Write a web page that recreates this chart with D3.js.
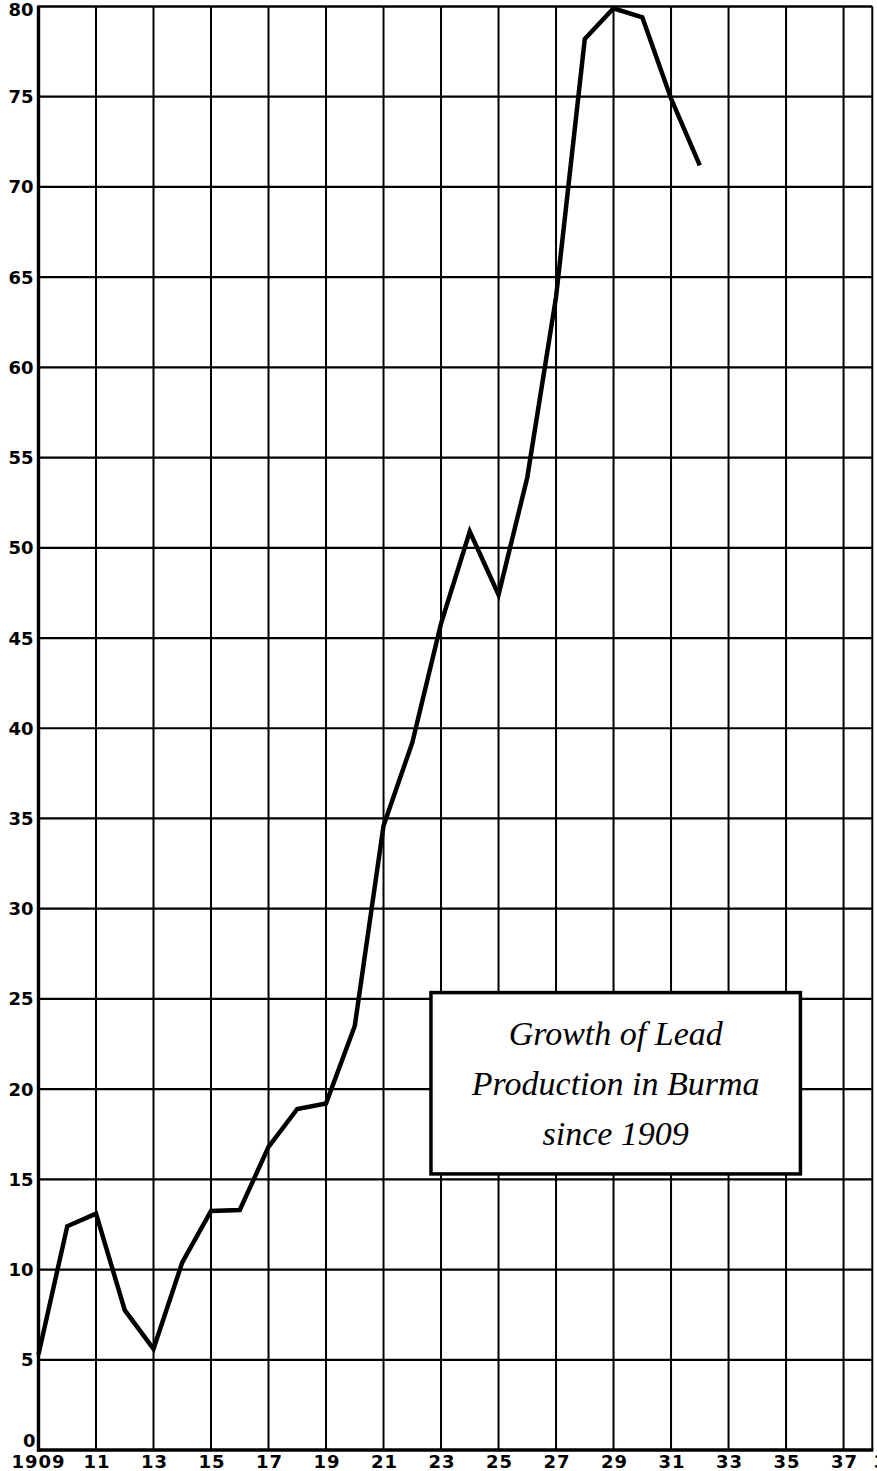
<!DOCTYPE html>
<html>
<head>
<meta charset="utf-8">
<script src="https://cdn.jsdelivr.net/npm/d3@7"></script>
<style>
  html, body { margin: 0; padding: 0; background: #fff; }
  svg { display: block; }
</style>
</head>
<body>
<div id="chart"></div>
<script>
// lead production, Burma
var years = [1909, 1910, 1911, 1912, 1913, 1914, 1915, 1916, 1917, 1918, 1919, 1920,
             1921, 1922, 1923, 1924, 1925, 1926, 1927, 1928, 1929, 1930, 1931, 1932];
var values = [5.3, 12.4, 13.1, 7.75, 5.6, 10.4, 13.25, 13.3, 16.8, 18.9, 19.2, 23.5,
              34.6, 39.2, 45.8, 50.9, 47.4, 53.9, 63.9, 78.2, 79.9, 79.4, 74.9, 71.2];

var yTicks = [0, 5, 10, 15, 20, 25, 30, 35, 40, 45, 50, 55, 60, 65, 70, 75, 80];
var xTickYears = [1909, 1911, 1913, 1915, 1917, 1919, 1921, 1923, 1925, 1927, 1929, 1931, 1933, 1935, 1937];
var xTickLabels = ["1909", "11", "13", "15", "17", "19", "21", "23", "25", "27", "29", "31", "33", "35", "37"];

var titleLines = ["Growth of Lead", "Production in Burma", "since 1909"];
// title box corners in data units (year, value)
var titleBox = {x0: 1922.65, x1: 1935.5, y0: 15.3, y1: 25.35};

var W = 877, H = 1471;
var svg = d3.select("#chart").append("svg")
	.attr("width", W)
	.attr("height", H);

var x = d3.scaleLinear()
	.domain([1909, 1938])
	.range([38.5, 872.3]);

var y = d3.scaleLinear()
	.domain([0, 80])
	.range([1450, 6.5]);

// vertical grid, every other year + right border
svg.append("g")
	.selectAll("line")
	.data(xTickYears.slice(1).concat([1938]))
	.enter().append("line")
	.attr("x1", d => x(d)).attr("x2", d => x(d))
	.attr("y1", y(80)).attr("y2", y(0))
	.attr("stroke", "#000")
	.attr("stroke-width", 2);

// horizontal grid every 5
svg.append("g")
	.selectAll("line")
	.data(yTicks.filter(d => d > 0))
	.enter().append("line")
	.attr("x1", x(1909)).attr("x2", x(1938))
	.attr("y1", d => y(d)).attr("y2", d => y(d))
	.attr("stroke", "#000")
	.attr("stroke-width", d => d == 80 ? 2.4 : 2.2);

// axes (heavier)
svg.append("line")
	.attr("x1", x(1909)).attr("x2", x(1909))
	.attr("y1", y(80) - 1).attr("y2", y(0) + 1.5)
	.attr("stroke", "#000").attr("stroke-width", 3.4);
svg.append("line")
	.attr("x1", x(1909) - 1.5).attr("x2", x(1938) + 1)
	.attr("y1", y(0)).attr("y2", y(0))
	.attr("stroke", "#000").attr("stroke-width", 3.4);

var tickFont = "'DejaVu Sans', sans-serif";

// y labels
svg.append("g")
	.selectAll("text")
	.data(yTicks)
	.enter().append("text")
	.attr("x", d => d == 0 ? x(1909) - 3 : x(1909) - 5)
	.attr("y", d => d == 0 ? y(0) - 9 : (d == 80 ? y(d) + 3 : y(d)))
	.attr("dy", "0.36em")
	.attr("text-anchor", "end")
	.attr("font-family", tickFont)
	.attr("font-weight", "bold")
	.attr("font-size", 18)
	.text(d => d);

// x labels
svg.append("g")
	.selectAll("text")
	.data(xTickYears)
	.enter().append("text")
	.attr("x", d => x(d) + (d == 1909 ? 0 : 1))
	.attr("y", y(0) + 18)
	.attr("text-anchor", "middle")
	.attr("font-family", tickFont)
	.attr("font-weight", "bold")
	.attr("font-size", 18)
	.attr("letter-spacing", 1)
	.text((d, i) => xTickLabels[i]);

// label cut by the right edge, as in the original
svg.append("text")
	.attr("x", x(1938) + 1.5)
	.attr("y", y(0) + 18)
	.attr("font-family", tickFont)
	.attr("font-weight", "bold")
	.attr("font-size", 18)
	.text("39");

// data line
var line = d3.line()
	.x((d, i) => x(years[i]))
	.y(d => y(d));

svg.append("path")
	.datum(values)
	.attr("d", line)
	.attr("fill", "none")
	.attr("stroke", "#000")
	.attr("stroke-width", 4.5)
	.attr("stroke-linejoin", "miter");

// title box
var bx = x(titleBox.x0), bw = x(titleBox.x1) - bx;
var by = y(titleBox.y1), bh = y(titleBox.y0) - by;
svg.append("rect")
	.attr("x", bx).attr("y", by)
	.attr("width", bw).attr("height", bh)
	.attr("fill", "#fff")
	.attr("stroke", "#000")
	.attr("stroke-width", 3.5);

svg.append("g")
	.selectAll("text")
	.data(titleLines)
	.enter().append("text")
	.attr("x", bx + bw / 2)
	.attr("y", (d, i) => by + 52 + i * 50)
	.attr("text-anchor", "middle")
	.attr("font-family", "'Liberation Serif', serif")
	.attr("font-style", "italic")
	.attr("font-size", 34)
	.text(d => d);
</script>
</body>
</html>
